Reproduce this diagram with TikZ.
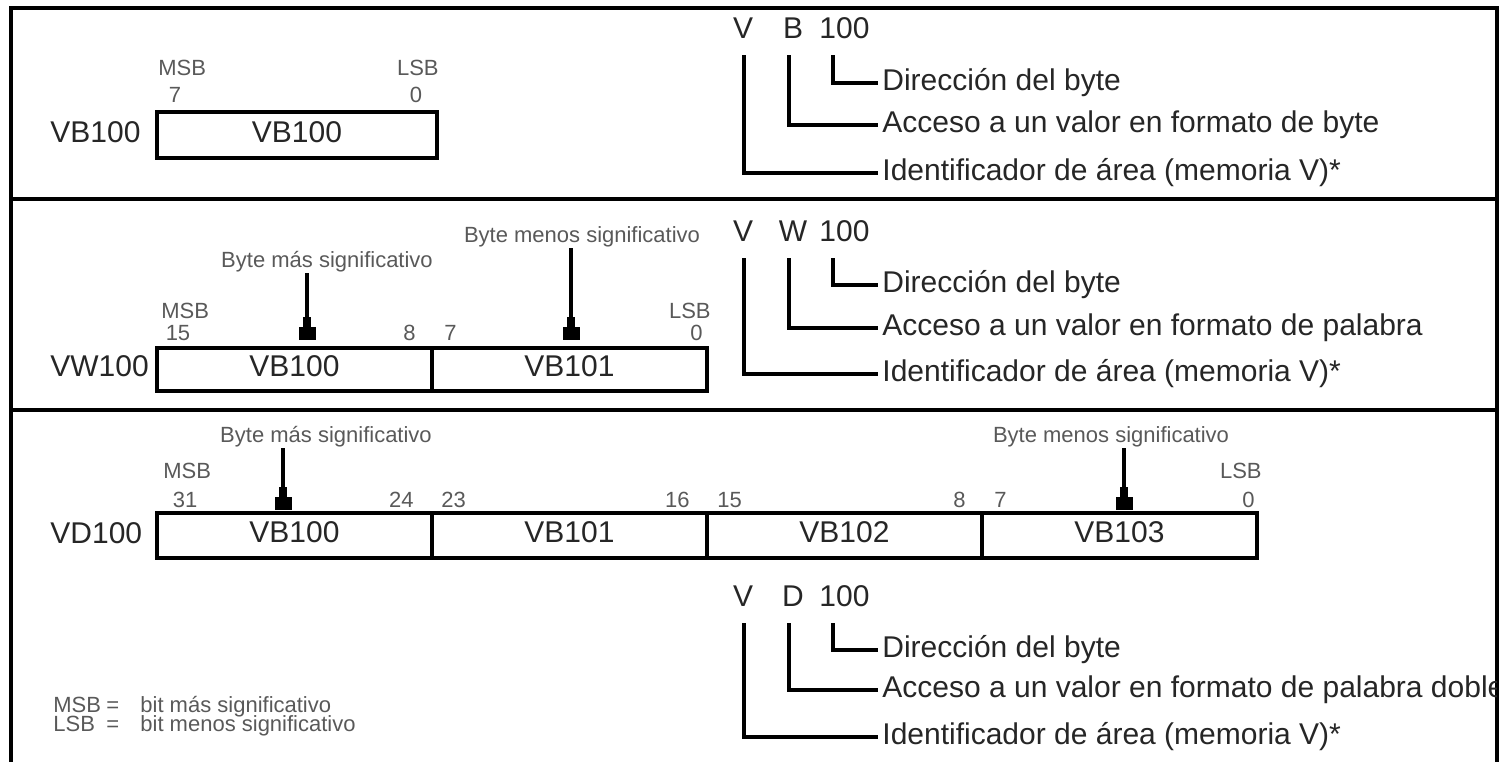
\documentclass[tikz,border=0pt]{standalone}
\usepackage{fontspec}
\setmainfont{Liberation Sans}
\usetikzlibrary{arrows.meta}
\begin{document}
\begin{tikzpicture}[x=0.5pt,y=-0.5pt,
  frame/.style={line width=2pt, line join=miter},
  big/.style={font=\fontsize{15}{17}\selectfont, inner sep=0pt, text=black!85},
  small/.style={font=\fontsize{11}{13}\selectfont, inner sep=0pt, text=black!65},
  cell/.style={draw, line width=1.7pt, minimum width=137.5pt, inner sep=0pt,
    font=\fontsize{15}{17}\selectfont, text=black!85, text height=10.7pt, text depth=3.5pt},
  brk/.style={line width=1.9pt, line join=miter},
  ptr/.style={line width=2.2pt, -{Rectangle[length=5pt,width=3.6pt,line width=0.1pt]Rectangle[length=6pt,width=8pt,line width=0.1pt]}},
]
\useasboundingbox (0,0) rectangle (1503,761);
% frame
\draw[frame] (11,775) -- (11,8) -- (1497,8) -- (1497,775);
\draw[frame] (11,199) -- (1497,199);
\draw[frame] (11,410) -- (1497,410);

% ---------- panel 1 ----------
\node[big, anchor=base west] (lab1) at (50,142) {VB100};
\node[cell, minimum width=140pt, minimum height=23pt] (c11) at (297,135) {VB100};
\node[small, anchor=base west] (msb1) at (158,75) {MSB};
\node[small, anchor=base east] (lsb1) at (439,75) {LSB};
\node[small, anchor=base] (n17) at (175,102) {7};
\node[small, anchor=base] (n10) at (416,102) {0};

\node[big, anchor=base] (V1) at (743,38) {V};
\node[big, anchor=base] (T1) at (793,38) {B};
\node[big, anchor=base west] (A1) at (819,38) {100};
\node[big, anchor=base west] (dir1) at (882,90) {Dirección del byte};
\node[big, anchor=base west] (acc1) at (882,132) {Acceso a un valor en formato de byte};
\node[big, anchor=base west] (id1) at (882,180) {Identificador de área (memoria V)*};
\coordinate (p1v) at (744,55);
\coordinate (p1t) at (789,55);
\coordinate (p1a) at (833,55);
\draw[brk] (p1a) |- ([xshift=-2pt,yshift=3.5pt]dir1.base west);
\draw[brk] (p1t) |- ([xshift=-2pt,yshift=3.5pt]acc1.base west);
\draw[brk] (p1v) |- ([xshift=-2pt,yshift=3.5pt]id1.base west);

% ---------- panel 2 ----------
\node[big, anchor=base west] (lab2) at (50,376) {VW100};
\node[cell, minimum height=21.5pt] (c21) at (294.5,369.5) {VB100};
\node[cell, minimum height=21.5pt] (c22) at (569.5,369.5) {VB101};
\node[small, anchor=base west] (msb2) at (161,318) {MSB};
\node[small, anchor=base east] (lsb2) at (711,318) {LSB};
\node[small, anchor=base] (n215) at (178,340) {15};
\node[small, anchor=base east] (n28) at (416,340) {8};
\node[small, anchor=base west] (n27) at (444,340) {7};
\node[small, anchor=base east] (n20) at (703,340) {0};
\node[small, anchor=base] (bmas2) at (327,267) {Byte más significativo};
\node[small, anchor=base] (bmen2) at (582,242) {Byte menos significativo};
\coordinate (a2s) at (307,273);
\coordinate (a2e) at (307,339);
\coordinate (b2s) at (571,248);
\coordinate (b2e) at (571,339);
\draw[ptr] (a2s) -- (a2e);
\draw[ptr] (b2s) -- (b2e);

\node[big, anchor=base] (V2) at (743,241) {V};
\node[big, anchor=base] (T2) at (793,241) {W};
\node[big, anchor=base west] (A2) at (819,241) {100};
\node[big, anchor=base west] (dir2) at (882,292) {Dirección del byte};
\node[big, anchor=base west] (acc2) at (882,335) {Acceso a un valor en formato de palabra};
\node[big, anchor=base west] (id2) at (882,381) {Identificador de área (memoria V)*};
\coordinate (p2v) at (744,258);
\coordinate (p2t) at (789,258);
\coordinate (p2a) at (833,258);
\draw[brk] (p2a) |- ([xshift=-2pt,yshift=3.5pt]dir2.base west);
\draw[brk] (p2t) |- ([xshift=-2pt,yshift=3.5pt]acc2.base west);
\draw[brk] (p2v) |- ([xshift=-2pt,yshift=3.5pt]id2.base west);

% ---------- panel 3 ----------
\node[big, anchor=base west] (lab3) at (50,543) {VD100};
\node[cell, minimum height=22.5pt] (c31) at (294.5,535.5) {VB100};
\node[cell, minimum height=22.5pt] (c32) at (569.5,535.5) {VB101};
\node[cell, minimum height=22.5pt] (c33) at (844.5,535.5) {VB102};
\node[cell, minimum height=22.5pt] (c34) at (1119.5,535.5) {VB103};
\node[small, anchor=base west] (msb3) at (163,478) {MSB};
\node[small, anchor=base east] (lsb3) at (1262,478) {LSB};
\node[small, anchor=base] (n331) at (185,507) {31};
\node[small, anchor=base east] (n324) at (414,507) {24};
\node[small, anchor=base west] (n323) at (441,507) {23};
\node[small, anchor=base east] (n316) at (690,507) {16};
\node[small, anchor=base west] (n315) at (717,507) {15};
\node[small, anchor=base east] (n38) at (966,507) {8};
\node[small, anchor=base west] (n37) at (994,507) {7};
\node[small, anchor=base east] (n30) at (1255,507) {0};
\node[small, anchor=base] (bmas3) at (326,442) {Byte más significativo};
\node[small, anchor=base] (bmen3) at (1111,442) {Byte menos significativo};
\coordinate (a3s) at (283,448);
\coordinate (a3e) at (283,509);
\coordinate (b3s) at (1124,448);
\coordinate (b3e) at (1124,509);
\draw[ptr] (a3s) -- (a3e);
\draw[ptr] (b3s) -- (b3e);

\node[big, anchor=base] (V3) at (743,606) {V};
\node[big, anchor=base] (T3) at (793,606) {D};
\node[big, anchor=base west] (A3) at (819,606) {100};
\node[big, anchor=base west] (dir3) at (882,657) {Dirección del byte};
\begin{scope}
\clip (0,0) rectangle (1496,761);
\node[big, anchor=base west] (acc3) at (882,697) {Acceso a un valor en formato de palabra doble};
\end{scope}
\node[big, anchor=base west] (id3) at (882,744) {Identificador de área (memoria V)*};
\coordinate (p3v) at (744,623);
\coordinate (p3t) at (789,623);
\coordinate (p3a) at (833,623);
\draw[brk] (p3a) |- ([xshift=-2pt,yshift=3.5pt]dir3.base west);
\draw[brk] (p3t) |- ([xshift=-2pt,yshift=3.5pt]acc3.base west);
\draw[brk] (p3v) |- ([xshift=-2pt,yshift=3.5pt]id3.base west);

% legend
\node[small, anchor=base west] (leg1) at (53,712) {\makebox[26.5pt][l]{MSB}\makebox[17pt][l]{=}bit más significativo};
\node[small, anchor=base west] (leg2) at (53,731) {\makebox[26.5pt][l]{LSB}\makebox[17pt][l]{=}bit menos significativo};
\end{tikzpicture}
\end{document}
